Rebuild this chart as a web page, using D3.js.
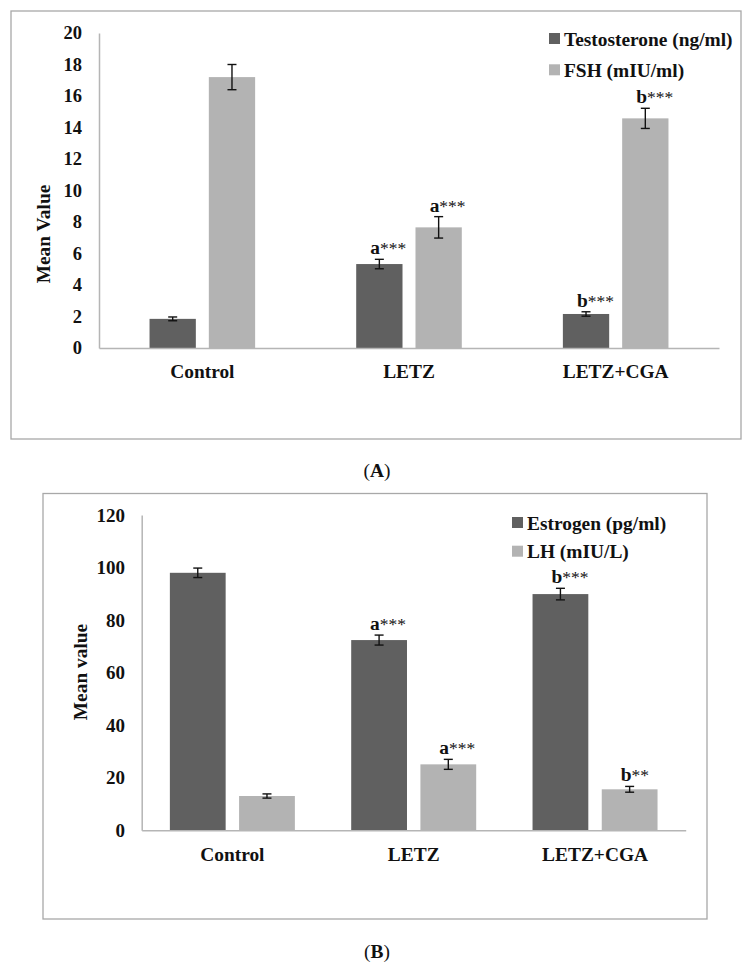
<!DOCTYPE html>
<html>
<head>
<meta charset="utf-8">
<script src="https://cdn.jsdelivr.net/npm/d3@7"></script>
<style>
  html, body { margin: 0; padding: 0; background: #fff; }
  svg { display: block; }
</style>
</head>
<body>
<svg id="chart" width="752" height="968" font-family="Liberation Serif"></svg>
<script>
// ---------- Data ----------
const categories = ["Control", "LETZ", "LETZ+CGA"];

// Panel A
const seriesA = ["Testosterone (ng/ml)", "FSH (mIU/ml)"];
const testosterone = [1.85, 5.33, 2.16];
const testosteroneErr = [0.12, 0.30, 0.14];
const testosteroneSig = ["", "a***", "b***"];
const fsh = [17.2, 7.66, 14.58];
const fshErr = [0.80, 0.68, 0.64];
const fshSig = ["", "a***", "b***"];
const ticksA = [0, 2, 4, 6, 8, 10, 12, 14, 16, 18, 20];

// Panel B
const seriesB = ["Estrogen (pg/ml)", "LH (mIU/L)"];
const estrogen = [98.0, 72.4, 89.9];
const estrogenErr = [1.8, 1.9, 2.2];
const estrogenSig = ["", "a***", "b***"];
const lh = [13.05, 25.1, 15.6];
const lhErr = [0.8, 1.9, 1.1];
const lhSig = ["", "a***", "b**"];
const ticksB = [0, 20, 40, 60, 80, 100, 120];

const colors = ["#606060", "#b3b3b3"];
const FONT = "Liberation Serif";

// ---------- Drawing ----------
const svg = d3.select("#chart");

function styleText(sel, size) {
  return sel.attr("font-family", FONT).style("font-family", FONT).attr("font-size", size || 19.4).attr("fill", "#111");
}

function drawPanel(cfg) {
  const g = svg.append("g");
  // frame
  g.append("rect")
    .attr("x", cfg.frame[0]).attr("y", cfg.frame[1])
    .attr("width", cfg.frame[2] - cfg.frame[0]).attr("height", cfg.frame[3] - cfg.frame[1])
    .attr("fill", "none").attr("stroke", "#a8a8a8").attr("stroke-width", 1.3);

  const x0 = d3.scaleBand().domain(categories).range([cfg.left, cfg.right]).padding(0);
  const x1 = d3.scaleBand().domain(cfg.series)
    .range([x0.bandwidth() / 2 - cfg.groupW / 2, x0.bandwidth() / 2 + cfg.groupW / 2])
    .paddingInner(cfg.innerPad);
  const y = d3.scaleLinear().domain([0, cfg.max]).range([cfg.bottom, cfg.top]);

  const rows = [];
  categories.forEach((c, i) => {
    cfg.series.forEach((s, j) => {
      rows.push({ cat: c, s: s, j: j, v: cfg.values[j][i], e: cfg.errs[j][i], lab: cfg.sigs[j][i] });
    });
  });

  // bars
  g.selectAll("rect.bar").data(rows).join("rect")
    .attr("class", "bar")
    .attr("x", d => x0(d.cat) + x1(d.s))
    .attr("y", d => y(d.v))
    .attr("width", x1.bandwidth())
    .attr("height", d => y(0) - y(d.v))
    .attr("fill", d => colors[d.j]);

  // axes
  const yAxis = d3.axisLeft(y).tickValues(cfg.ticks).tickSize(0).tickPadding(cfg.tickPad);
  const ya = g.append("g").attr("transform", `translate(${cfg.left},0)`).call(yAxis)
    .attr("font-family", FONT).attr("font-size", 19);
  ya.select(".domain").attr("stroke", "#b5b5b5").attr("stroke-width", 1.5);
  styleText(ya.selectAll("text"), cfg.tickSize).attr("font-weight", "bold");

  const xAxis = d3.axisBottom(x0).tickSize(0).tickPadding(16.5);
  const xa = g.append("g").attr("transform", `translate(0,${cfg.bottom})`).call(xAxis)
    .attr("font-family", FONT).attr("font-size", 19);
  xa.select(".domain").attr("stroke", "#b5b5b5").attr("stroke-width", 1.5);
  styleText(xa.selectAll("text")).attr("font-weight", "bold");

  // error bars
  const cx = d => x0(d.cat) + x1(d.s) + x1.bandwidth() / 2;
  const eg = g.selectAll("g.err").data(rows).join("g").attr("class", "err")
    .attr("stroke", "#111").attr("stroke-width", 1.4);
  eg.append("line").attr("x1", cx).attr("x2", cx).attr("y1", d => y(d.v + d.e)).attr("y2", d => y(d.v - d.e));
  eg.append("line").attr("x1", d => cx(d) - 4.5).attr("x2", d => cx(d) + 4.5).attr("y1", d => y(d.v + d.e)).attr("y2", d => y(d.v + d.e));
  eg.append("line").attr("x1", d => cx(d) - 4.5).attr("x2", d => cx(d) + 4.5).attr("y1", d => y(d.v - d.e)).attr("y2", d => y(d.v - d.e));

  // significance labels
  const lt = styleText(g.selectAll("text.sig").data(rows.filter(d => d.lab)).join("text"))
    .attr("class", "sig")
    .attr("x", d => cx(d) - 9)
    .attr("y", d => y(d.v + d.e) - cfg.sigGap);
  lt.append("tspan").attr("font-weight", "bold").text(d => d.lab.replace(/\*/g, ""));
  lt.append("tspan").attr("font-weight", "normal").attr("font-size", 17.5).text(d => d.lab.replace(/[^*]/g, ""));

  // y label
  styleText(g.append("text"))
    .attr("transform", `translate(${cfg.ylabX},${cfg.ylabY}) rotate(-90)`)
    .attr("text-anchor", "middle")
    .attr("font-weight", "bold")
    .text(cfg.ylabel);

  // legend
  const lg = g.selectAll("g.leg").data(cfg.series).join("g").attr("class", "leg")
    .attr("transform", (d, i) => `translate(${cfg.legX},${cfg.legY + i * cfg.legStep})`);
  lg.append("rect").attr("x", 0).attr("y", -11).attr("width", 11).attr("height", 11)
    .attr("fill", (d, i) => colors[i]);
  styleText(lg.append("text")).attr("x", 15).attr("y", 1.5)
    .attr("font-weight", "bold")
    .text(d => d);

  // caption
  const cap = styleText(svg.append("text")).attr("x", cfg.capX).attr("y", cfg.capY)
    .attr("text-anchor", "middle");
  cap.append("tspan").text("(");
  cap.append("tspan").attr("font-weight", "bold").text(cfg.caption);
  cap.append("tspan").text(")");
}

drawPanel({
  frame: [11, 11, 741, 439],
  left: 99, right: 719, top: 33, bottom: 348, max: 20,
  groupW: 105.6, innerPad: 0.219,
  series: seriesA, values: [testosterone, fsh], errs: [testosteroneErr, fshErr], sigs: [testosteroneSig, fshSig],
  ticks: ticksA, tickPad: 17, tickSize: 18.5, sigGap: 5,
  ylabel: "Mean Value", ylabX: 50, ylabY: 234,
  legX: 549, legY: 44, legStep: 31.3,
  caption: "A", capX: 377, capY: 476.5
});

drawPanel({
  frame: [43, 493.5, 707, 919],
  left: 141.7, right: 685.7, top: 515, bottom: 830.3, max: 120,
  groupW: 125, innerPad: 0.194,
  series: seriesB, values: [estrogen, lh], errs: [estrogenErr, lhErr], sigs: [estrogenSig, lhSig],
  ticks: ticksB, tickPad: 16.7, tickSize: 19, sigGap: 5,
  ylabel: "Mean value", ylabX: 86.7, ylabY: 672,
  legX: 512, legY: 528, legStep: 28.7,
  caption: "B", capX: 377, capY: 958
});
</script>
</body>
</html>
